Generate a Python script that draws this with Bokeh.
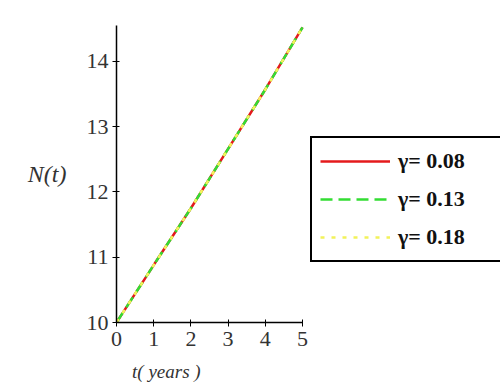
from bokeh.plotting import figure
from bokeh.models import Range1d, Legend, LegendItem
from bokeh.embed import file_html
from bokeh.resources import INLINE

t_years = [0, 1, 2, 3, 4, 5]
n_g008 = [10.0, 10.88, 11.75, 12.66, 13.57, 14.52]
n_g013 = [10.0, 10.88, 11.75, 12.66, 13.57, 14.52]
n_g018 = [10.0, 10.88, 11.75, 12.66, 13.57, 14.52]
legend_labels = ["γ= 0.08", "γ= 0.13", "γ= 0.18"]
x_title = "t( years )"
y_title = "N(t)"

SERIF = "'Liberation Serif', 'DejaVu Serif', serif"

# plot area 0..5 spans 186px; frame extends to the right edge to host the legend
p = figure(frame_width=384, frame_height=297, output_backend="svg", toolbar_location=None,
           x_range=Range1d(0, 5 * 384 / 186), y_range=Range1d(10, 14.55),
           min_border_left=116, min_border_right=0, min_border_top=25, min_border_bottom=67)
p.outline_line_color = None
p.grid.visible = False
p.background_fill_color = "white"
p.border_fill_color = "white"

r1 = p.line(t_years, n_g008, line_color="#e41a1c", line_width=2.5)
r2 = p.line(t_years, n_g013, line_color="#33dd33", line_width=2.5, line_dash="12 6")
r3 = p.line(t_years, n_g018, line_color="#f2f25a", line_width=2.5, line_dash="4 7")

for ax in (p.xaxis, p.yaxis):
    ax.axis_line_color = "black"
    ax.axis_line_width = 1.5
    ax.major_tick_line_color = "black"
    ax.minor_tick_line_color = "black"
    ax.major_tick_in = 3
    ax.major_tick_out = 4
    ax.minor_tick_in = 3
    ax.minor_tick_out = 0
    ax.major_label_text_font = SERIF
    ax.major_label_text_font_size = "22px"
    ax.major_label_text_color = "#333333"
    ax.axis_label_text_font = SERIF
    ax.axis_label_text_font_style = "italic"
    ax.axis_label_text_color = "#333333"
p.xaxis.bounds = (0, 5)
p.xaxis.ticker = [0, 1, 2, 3, 4, 5]
p.yaxis.ticker = [10, 11, 12, 13, 14]
p.xaxis.major_label_standoff = 5
p.yaxis.major_label_standoff = 4
p.xaxis.axis_label = "\u00a0" * 21 + x_title
p.xaxis.axis_label_align = "start"
p.xaxis.axis_label_text_font_size = "19px"
p.xaxis.axis_label_standoff = 12
p.yaxis.axis_label = y_title
p.yaxis.axis_label_text_font_size = "24px"
p.yaxis.axis_label_orientation = "horizontal"
p.yaxis.axis_label_standoff = 17

legend = Legend(items=[LegendItem(label=legend_labels[0], renderers=[r1]),
                       LegendItem(label=legend_labels[1], renderers=[r2]),
                       LegendItem(label=legend_labels[2], renderers=[r3])],
                location=(194, 60))
legend.label_text_font = SERIF
legend.label_text_font_style = "bold"
legend.label_text_font_size = "22px"
legend.label_text_color = "#111111"
legend.glyph_width = 70
legend.glyph_height = 30
legend.label_height = 30
legend.label_width = 102
legend.label_standoff = 8
legend.spacing = 8
legend.padding = 8
legend.margin = 0
legend.border_line_color = "black"
legend.border_line_alpha = 1
legend.border_line_width = 2
legend.background_fill_alpha = 1
p.add_layout(legend, "center")

open("out.html", "w").write(file_html(p, INLINE))
